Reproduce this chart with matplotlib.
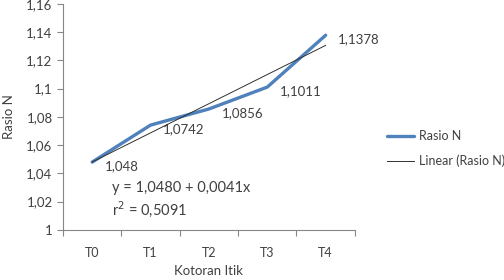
"""Rasio N vs kotoran itik, dengan garis tren linear."""

import matplotlib

matplotlib.use("Agg")
import matplotlib.pyplot as plt  # noqa: E402
import numpy as np  # noqa: E402

categories = ["T0", "T1", "T2", "T3", "T4"]
rasio_n = [1.048, 1.0742, 1.0856, 1.1011, 1.1378]
point_labels = ["1,048", "1,0742", "1,0856", "1,1011", "1,1378"]
y_ticks = [1.0, 1.02, 1.04, 1.06, 1.08, 1.1, 1.12, 1.14, 1.16]
y_tick_labels = ["1", "1,02", "1,04", "1,06", "1,08", "1,1", "1,12", "1,14", "1,16"]
equation = "y = 1,0480 + 0,0041x"
r_squared = "r$^2$ = 0,5091"

plt.rcParams["font.family"] = ["Lato", "DejaVu Sans"]
TEXT = "#404040"
AXIS = "#868686"
BLUE = "#4F81BD"

fig = plt.figure(figsize=(5.04, 2.8), dpi=100)
ax = fig.add_axes([0.125, 0.179, 0.579, 0.807])

x = np.arange(len(categories))
ax.plot(x, rasio_n, color=BLUE, lw=2.4, solid_capstyle="round",
        label="Rasio N", zorder=3)

# tren linear dari data
coef = np.polyfit(x, rasio_n, 1)
ax.plot(x, np.polyval(coef, x), color="#303030", lw=0.7,
        label="Linear (Rasio N)", zorder=4)

for xi, yi, lab in zip(x, rasio_n, point_labels):
    ax.annotate(lab, (xi, yi), xytext=(9, -3), textcoords="offset points",
                ha="left", va="center", fontsize=9.5, color=TEXT)

ax.text(0.168, 0.185, equation, transform=ax.transAxes, fontsize=10.5,
        color=TEXT, va="center")
ax.text(0.168, 0.092, r_squared, transform=ax.transAxes, fontsize=10.5,
        color=TEXT, va="center")

ax.set_xlim(-0.5, len(categories) - 0.5)
ax.set_ylim(1.0, 1.16)
ax.set_yticks(y_ticks, labels=y_tick_labels)
ax.set_xticks(np.arange(-0.5, len(categories)), labels=[])
ax.set_xticks(x, labels=categories, minor=True)
ax.tick_params(axis="x", which="minor", length=0, pad=12)
ax.tick_params(axis="both", which="major", length=4, color=AXIS,
               labelsize=9.5, labelcolor=TEXT)
ax.tick_params(axis="x", which="minor", labelsize=9, labelcolor=TEXT)

for side in ("top", "right"):
    ax.spines[side].set_visible(False)
for side in ("left", "bottom"):
    ax.spines[side].set_color(AXIS)
    ax.spines[side].set_linewidth(0.8)

ax.set_xlabel("Kotoran Itik", fontsize=9.5, color=TEXT, labelpad=5)
ax.set_ylabel("Rasio N", fontsize=9.5, color=TEXT, labelpad=8)

fig.legend(loc="upper left", bbox_to_anchor=(0.745, 0.575), frameon=False,
           fontsize=9, handlelength=2.2, handletextpad=0.4, labelspacing=1.0,
           labelcolor=TEXT)

fig.savefig("out.png", dpi=100)
